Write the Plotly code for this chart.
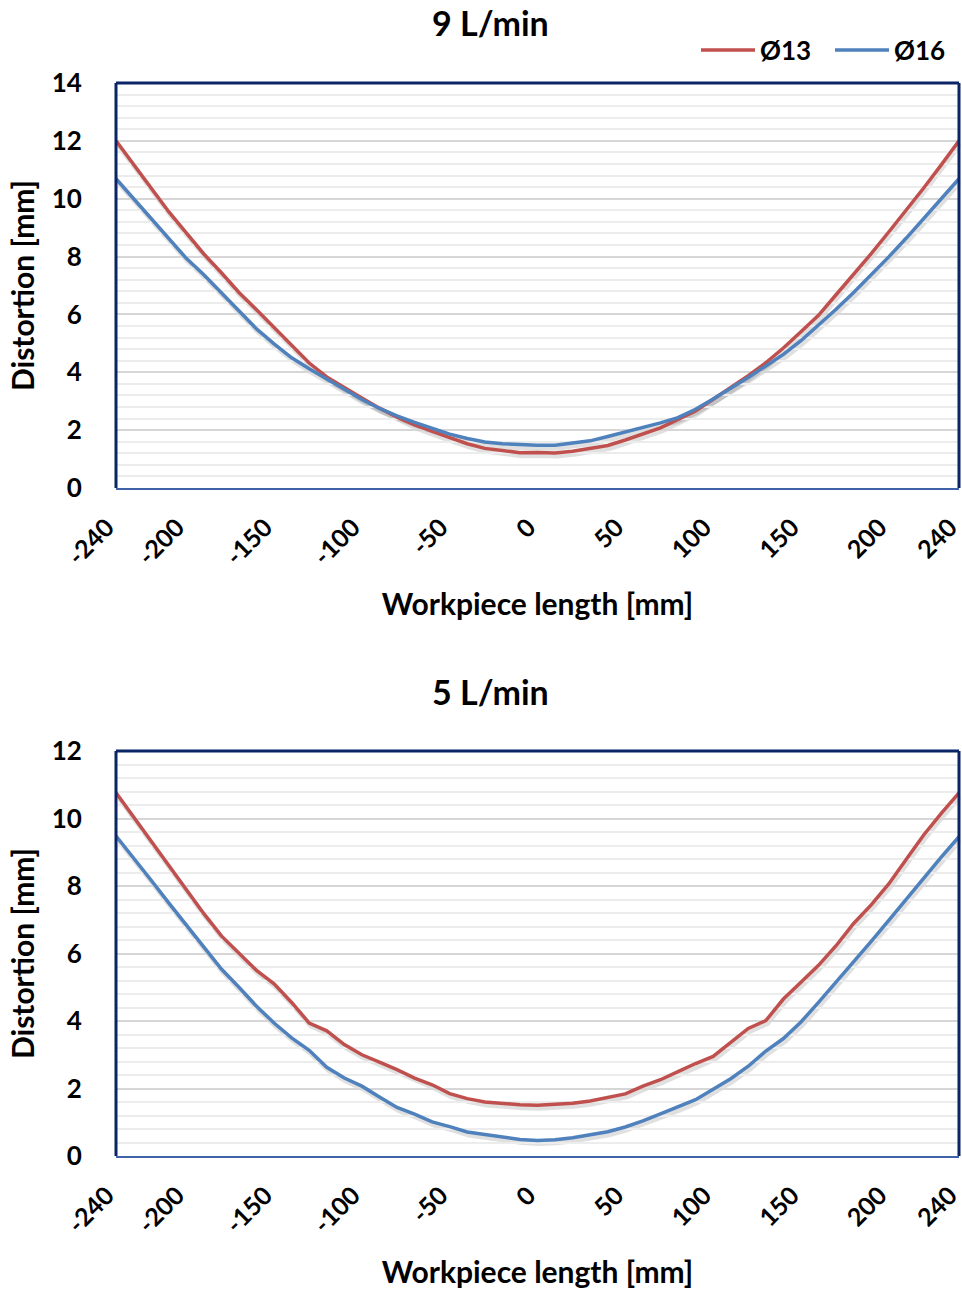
import plotly.graph_objects as go

# Workpiece positions along the length [mm]
positions = list(range(-240, 241, 10))

# 9 L/min flow rate
d13_9 = [12.00, 11.17, 10.35, 9.55, 8.82, 8.09, 7.44, 6.76, 6.16, 5.55, 4.91, 4.32,
         3.84, 3.46, 3.11, 2.76, 2.45, 2.18, 1.95, 1.74, 1.53, 1.37, 1.30, 1.22,
         1.23,
         1.21, 1.27, 1.36, 1.47, 1.66, 1.87, 2.08, 2.37, 2.66, 3.07, 3.47, 3.88,
         4.33, 4.84, 5.40, 5.97, 6.68, 7.38, 8.10, 8.85, 9.60, 10.38, 11.18, 12.00]
d16_9 = [10.69, 10.01, 9.34, 8.62, 7.94, 7.37, 6.75, 6.10, 5.50, 4.98, 4.50, 4.12,
         3.76, 3.40, 3.06, 2.75, 2.49, 2.27, 2.05, 1.86, 1.71, 1.59, 1.53, 1.49,
         1.48,
         1.48, 1.56, 1.63, 1.78, 1.93, 2.09, 2.25, 2.43, 2.72, 3.08, 3.44, 3.82,
         4.22, 4.62, 5.09, 5.62, 6.18, 6.76, 7.37, 7.99, 8.64, 9.31, 9.99, 10.69]

# 5 L/min flow rate
d13_5 = [10.76, 10.04, 9.34, 8.62, 7.87, 7.18, 6.52, 6.01, 5.50, 5.10, 4.55, 3.94,
         3.71, 3.30, 3.00, 2.78, 2.56, 2.31, 2.11, 1.85, 1.70, 1.60, 1.55, 1.52,
         1.50,
         1.53, 1.56, 1.63, 1.74, 1.84, 2.07, 2.26, 2.50, 2.74, 2.95, 3.36, 3.78,
         4.01, 4.65, 5.15, 5.65, 6.23, 6.89, 7.44, 8.06, 8.79, 9.52, 10.16, 10.76]
d16_5 = [9.48, 8.84, 8.17, 7.50, 6.86, 6.18, 5.54, 5.00, 4.44, 3.94, 3.50, 3.13,
         2.63, 2.31, 2.07, 1.75, 1.44, 1.24, 1.01, 0.87, 0.71, 0.64, 0.56, 0.49,
         0.46,
         0.48, 0.54, 0.62, 0.72, 0.86, 1.04, 1.25, 1.45, 1.67, 1.98, 2.29, 2.66,
         3.11, 3.48, 3.97, 4.55, 5.15, 5.74, 6.36, 6.98, 7.62, 8.25, 8.86, 9.46]

x_ticks = [-240, -200, -150, -100, -50, 0, 50, 100, 150, 200, 240]
series_names = ["Ø13", "Ø16"]
panel_titles = ["9 L/min", "5 L/min"]
y_max = [14, 12]

RED = "#c0504d"
BLUE = "#4f81bd"
NAVY = "#0b2466"
FONT = "Lato"

W, H = 962, 1292


def px_x(p):
    return p / W


def px_y(p):
    return 1 - p / H


x_dom = [px_x(116), px_x(959)]
panels = [
    dict(top=83, bottom=488),
    dict(top=751, bottom=1156),
]

fig = go.Figure()

# Shadow subplots (x/y, x2/y2) sit underneath the labelled ones (x3/y3, x4/y4)
panel_data = [(d13_9, d16_9), (d13_5, d16_5)]
for i, (red_vals, blue_vals) in enumerate(panel_data):
    sh_x = "x" if i == 0 else "x2"
    sh_y = "y" if i == 0 else "y2"
    for vals in (red_vals, blue_vals):
        fig.add_trace(go.Scatter(
            x=positions, y=vals, mode="lines", xaxis=sh_x, yaxis=sh_y,
            line=dict(color="rgba(0,0,0,0.12)", width=5),
            showlegend=False, hoverinfo="skip"))

for i, (red_vals, blue_vals) in enumerate(panel_data):
    main_x = "x%d" % (i + 3)
    main_y = "y%d" % (i + 3)
    for vals, name, color in ((red_vals, series_names[0], RED),
                              (blue_vals, series_names[1], BLUE)):
        fig.add_trace(go.Scatter(
            x=positions, y=vals, mode="lines", name=name,
            xaxis=main_x, yaxis=main_y,
            line=dict(color=color, width=3.5),
            showlegend=(i == 0)))

tick_font = dict(family=FONT, size=26, color="black", weight="bold")
xtick_font = dict(family=FONT, size=25, color="black", weight="bold")
title_font = dict(family=FONT, size=30, color="black", weight="bold")

layout = dict(
    width=W, height=H,
    margin=dict(l=0, r=0, t=0, b=0, autoexpand=False),
    paper_bgcolor="white", plot_bgcolor="rgba(0,0,0,0)",
    font=dict(family=FONT, color="black"),
    showlegend=True,
    legend=dict(orientation="h", x=px_x(964), xanchor="right",
                y=px_y(50), yanchor="middle",
                font=dict(family=FONT, size=26, color="black", weight="bold"),
                bgcolor="rgba(0,0,0,0)", itemwidth=54,
                entrywidth=65, entrywidthmode="pixels",
                tracegroupgap=0),
)

shapes = []
annotations = []
for i, pnl in enumerate(panels):
    y_dom = [px_y(pnl["bottom"]), px_y(pnl["top"])]
    # hidden axes carrying the shadow, nudged right and down
    sx = "xaxis" if i == 0 else "xaxis2"
    sy = "yaxis" if i == 0 else "yaxis2"
    layout[sx] = dict(domain=[x_dom[0] + 1.5 / W, x_dom[1] + 1.5 / W],
                      range=[-240, 240], anchor="y" if i == 0 else "y2",
                      visible=False, automargin=False)
    layout[sy] = dict(domain=[y_dom[0] - 3 / H, y_dom[1] - 3 / H],
                      range=[0, y_max[i]], anchor="x" if i == 0 else "x2",
                      visible=False, automargin=False)

    n = i + 3
    layout["xaxis%d" % n] = dict(
        domain=x_dom, range=[-240, 240], anchor="y%d" % n,
        tickvals=x_ticks, ticktext=[str(v) for v in x_ticks],
        tickangle=-45, tickfont=xtick_font, ticklabeloverflow="allow",
        ticklabelshift=-9,
        ticks="outside", ticklen=13, tickcolor="rgba(0,0,0,0)",
        showgrid=False, zeroline=False, automargin=False,
        showline=True, linecolor="#3f62a8", linewidth=2,
        title=dict(text="Workpiece length [mm]", font=title_font, standoff=25),
    )
    layout["yaxis%d" % n] = dict(
        domain=y_dom, range=[0, y_max[i]], anchor="x%d" % n,
        dtick=2, tickfont=tick_font, automargin=False,
        ticks="outside", ticklen=28, tickcolor="rgba(0,0,0,0)",
        showgrid=True, gridcolor="#d6d6d6", gridwidth=2,
        minor=dict(dtick=0.4, showgrid=True, gridcolor="#ececec", gridwidth=2),
        zeroline=False, showline=False,
        title=dict(text="Distortion [mm]", font=title_font, standoff=8),
    )
    # plot-area frame: left, top, right edges
    xr, yr = "x%d domain" % n, "y%d domain" % n
    for x0, y0, x1, y1 in ((0, 0, 0, 1), (0, 1, 1, 1), (1, 0, 1, 1)):
        shapes.append(dict(type="line", xref=xr, yref=yr, x0=x0, y0=y0,
                           x1=x1, y1=y1, line=dict(color=NAVY, width=3)))
    annotations.append(dict(
        text=panel_titles[i], x=px_x(491), y=px_y(pnl["top"] - 60),
        xref="paper", yref="paper", xanchor="center", yanchor="middle",
        showarrow=False,
        font=dict(family=FONT, size=34, color="black", weight="bold")))

layout["shapes"] = shapes
layout["annotations"] = annotations
fig.update_layout(**layout)

fig.write_html("out.html")
